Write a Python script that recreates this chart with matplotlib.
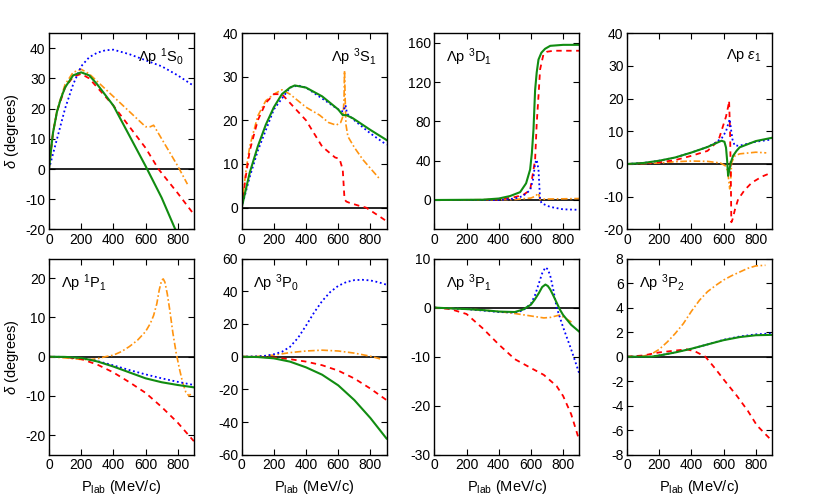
import numpy as np
import matplotlib
matplotlib.use('Agg')
import matplotlib.pyplot as plt

plt.rcParams['font.family'] = ['Liberation Sans', 'DejaVu Sans']
plt.rcParams['mathtext.fontset'] = 'custom'
plt.rcParams['mathtext.rm'] = 'Liberation Sans'
plt.rcParams['mathtext.it'] = 'Liberation Sans:italic'
plt.rcParams['font.size'] = 10
plt.rcParams['axes.unicode_minus'] = False

# ---- data (x = P_lab in MeV/c, y = phase shift in degrees) ----

# 1S0
s0_green_x = [0, 10, 25, 50, 75, 100, 150, 200, 250, 300, 400, 500, 600, 700, 785]
s0_green_y = [0, 5, 12, 19, 23.5, 27, 31, 32, 31, 28, 21, 11, 1, -9.5, -20]
s0_blue_x = [0, 25, 50, 100, 150, 200, 250, 300, 350, 400, 500, 600, 700, 800, 900]
s0_blue_y = [0, 5, 10, 20, 28, 34, 37, 38.5, 39.3, 39.5, 38, 36, 34, 31, 27.5]
s0_red_x = [0, 10, 25, 50, 100, 150, 200, 250, 300, 400, 500, 600, 680, 800, 900]
s0_red_y = [0, 5, 12, 19, 27, 30.5, 31.5, 30, 27, 21, 14, 7, 0, -8, -15]
s0_orng_x = [0, 10, 25, 50, 100, 150, 200, 250, 300, 400, 500, 600, 630, 650, 700, 800, 860]
s0_orng_y = [0, 5, 12, 19.5, 28, 32, 33, 31.5, 29, 24, 19, 14, 14, 14.5, 10, 1, -5]

# 3S1
s1_green_x = [0, 50, 100, 150, 200, 250, 300, 330, 400, 500, 600, 628, 650, 690, 800, 900]
s1_green_y = [0, 8, 14, 19, 23, 26, 27.5, 28, 27.5, 25.5, 22.5, 21.2, 21.2, 20.5, 17.8, 15.5]
s1_blue_x = [0, 50, 100, 200, 300, 350, 400, 500, 600, 630, 645, 655, 700, 800, 900]
s1_blue_y = [0, 7, 13, 22.5, 27.5, 28, 27.5, 25, 22.5, 22, 23.5, 21.5, 20, 17, 14.4]
s1_red_x = [0, 25, 50, 100, 150, 200, 250, 275, 300, 400, 500, 580, 608, 628, 639, 650, 670, 732, 773, 852, 900]
s1_red_y = [0, 7, 13, 20, 24, 26, 26, 25, 24, 20, 14, 11.5, 11.2, 8.7, 1.9, 1.4, 1.1, 0.4, 0, -1.9, -3.1]
s1_orng_x = [0, 25, 50, 100, 150, 200, 250, 300, 400, 484, 540, 587, 615, 630, 636, 639, 643, 648, 660, 700, 753, 800, 852]
s1_orng_y = [0, 8, 14, 21, 24.5, 26, 27, 26, 23, 21.2, 19.5, 18.9, 19.5, 21, 25, 31.4, 25, 19, 16.3, 13.8, 11, 9, 6.8]

# 3D1
d1_green_x = [0, 300, 400, 470, 533, 570, 595, 606, 616, 626, 636, 647, 665, 688, 720, 800, 900]
d1_green_y = [0, 0.3, 1.5, 4, 8, 17, 31, 48, 72, 112, 130, 143, 150, 154, 157, 158, 158]
d1_red_x = [0, 300, 400, 500, 550, 595, 616, 626, 636, 647, 657, 678, 700, 740, 800, 900]
d1_red_y = [0, 0.1, 0.5, 3, 5, 10, 30.7, 41, 78, 106, 133, 148.5, 151, 152, 152, 152]
d1_blue_x = [0, 400, 500, 550, 595, 615, 626, 636, 647, 657, 667, 719, 800, 900]
d1_blue_y = [0, 0, 1.5, 4, 10, 22, 37.5, 41, 31, 0, -3.4, -7, -9.5, -10]
d1_orng_x = [0, 500, 600, 630, 645, 650, 656, 700, 800, 900]
d1_orng_y = [0, 0.5, 2, 4, 7, 5, 0.5, 1, 1.2, 1.5]

# epsilon1
e1_green_x = [0, 100, 200, 300, 400, 500, 550, 587, 605, 615, 622, 628, 635, 645, 659, 680, 700, 800, 900]
e1_green_y = [0, 0.3, 1, 2, 3.5, 5.2, 6.3, 7.1, 6.8, 5, 1, -3.6, -2, 0.5, 2.5, 4, 5.1, 7, 8]
e1_blue_x = [0, 100, 200, 300, 400, 500, 550, 590, 615, 630, 638, 645, 655, 669, 700, 800, 900]
e1_blue_y = [0, 0.3, 1, 2, 3.5, 5.2, 6.5, 8, 10, 12.5, 13.7, 11, 7.5, 5.6, 5.6, 6.8, 7.5]
e1_red_x = [0, 200, 300, 400, 500, 535, 570, 597, 615, 628, 634, 640, 645, 648, 655, 670, 690, 730, 775, 840, 900]
e1_red_y = [0, 0.5, 1.2, 2.5, 4, 5.6, 7.5, 11.7, 14.5, 17.5, 19.3, 10, -5, -17.8, -17, -14, -10.8, -8, -5.7, -3.8, -2.6]
e1_orng_x = [0, 200, 300, 400, 500, 580, 610, 625, 638, 645, 650, 670, 700, 800, 865]
e1_orng_y = [0, 0.3, 0.7, 0.9, 0.8, 0.3, -0.5, -2, -7.6, -4, 0.5, 2.5, 3.1, 3.6, 3.4]

# 1P1
p1_green_x = [0, 100, 200, 300, 400, 500, 600, 700, 800, 900]
p1_green_y = [0, -0.05, -0.3, -1.2, -2.5, -4, -5.5, -6.5, -7.2, -7.8]
p1_blue_x = [0, 100, 200, 300, 400, 500, 600, 700, 800, 900]
p1_blue_y = [0, -0.05, -0.3, -1.1, -2.2, -3.4, -4.5, -5.5, -6.4, -7.2]
p1_red_x = [0, 100, 200, 300, 400, 500, 600, 700, 800, 900]
p1_red_y = [0, -0.1, -0.6, -2, -4, -6.5, -9.2, -12.8, -16.8, -21.5]
p1_orng_x = [0, 100, 200, 250, 300, 350, 400, 450, 500, 550, 600, 630, 650, 670, 685, 700, 710, 720,
             735, 750, 770, 790, 810, 830, 850, 870, 880]
p1_orng_y = [0, -0.3, -0.7, -0.75, -0.5, 0, 0.4, 1.3, 2.6, 4.2, 6.4, 8.5, 10.5, 13.5, 17, 19.5, 19.8, 19,
             16, 12, 6, 1, -3, -6.5, -9, -10, -9.5]

# 3P0
p0_green_x = [0, 100, 200, 300, 400, 500, 600, 700, 800, 900]
p0_green_y = [0, -0.2, -1, -3, -6.5, -11, -17.5, -26.5, -37.5, -50]
p0_blue_x = [0, 100, 150, 200, 250, 300, 350, 400, 450, 500, 550, 600, 650, 700, 750, 800, 850, 900]
p0_blue_y = [0, 0.2, 0.6, 1.5, 3, 6, 11.5, 19, 27, 34, 39.5, 43.3, 45.6, 46.8, 47, 46.6, 45.5, 44]
p0_red_x = [0, 100, 200, 300, 400, 500, 600, 700, 800, 900]
p0_red_y = [0, -0.1, -0.5, -1.5, -3, -5.2, -8.5, -13.3, -19.5, -26.5]
p0_orng_x = [0, 100, 200, 300, 400, 500, 600, 700, 800, 860]
p0_orng_y = [0, 0.2, 1, 2.5, 3.5, 4, 3.5, 2.2, 0.3, -1.3]

# 3P1
p31_green_x = [0, 200, 300, 400, 500, 550, 600, 625, 650, 670, 690, 705, 720, 740, 760, 780, 800, 850, 900]
p31_green_y = [0, -0.3, -0.5, -0.8, -0.9, -0.4, 0.6, 1.7, 3, 4.2, 4.7, 4.4, 3.7, 2.4, 1, -0.4, -1.5, -3.5, -4.9]
p31_blue_x = [0, 200, 300, 400, 500, 550, 600, 625, 650, 670, 690, 705, 720, 740, 760, 780, 800, 850, 900]
p31_blue_y = [0, -0.3, -0.6, -0.9, -1, -0.6, 0.8, 2.5, 5, 7, 8.2, 7.8, 6.5, 3.5, 0, -2, -4, -8.5, -13.4]
p31_red_x = [0, 100, 200, 300, 400, 500, 600, 680, 760, 800, 850, 900]
p31_red_y = [0, -0.3, -1.3, -4.2, -7.5, -10.5, -12.3, -13.7, -16, -18, -21.7, -27]
p31_orng_x = [0, 200, 300, 400, 500, 600, 680, 720, 780, 830, 860]
p31_orng_y = [0, -0.3, -0.5, -0.8, -1.2, -1.7, -2.1, -2, -1.5, -2.5, -3.1]

# 3P2
p2_green_x = [0, 150, 200, 300, 400, 500, 600, 700, 800, 900]
p2_green_y = [0, 0, 0.1, 0.35, 0.65, 1, 1.35, 1.6, 1.75, 1.78]
p2_blue_x = [0, 150, 200, 300, 400, 500, 600, 700, 800, 900]
p2_blue_y = [0, 0, 0.1, 0.35, 0.65, 1, 1.38, 1.65, 1.82, 1.9]
p2_red_x = [0, 100, 200, 300, 370, 420, 487, 550, 600, 683, 750, 807, 900]
p2_red_y = [0, 0.1, 0.35, 0.5, 0.6, 0.45, 0, -1, -1.85, -3.2, -4.4, -5.6, -6.85]
p2_orng_x = [0, 100, 150, 200, 250, 300, 350, 400, 450, 500, 550, 600, 650, 700, 750, 800, 860]
p2_orng_y = [0, 0.05, 0.2, 0.6, 1.2, 1.9, 2.7, 3.7, 4.6, 5.3, 5.8, 6.25, 6.6, 6.9, 7.2, 7.4, 7.45]

titles = [r'$\Lambda$p $^{1}$S$_{0}$', r'$\Lambda$p $^{3}$S$_{1}$', r'$\Lambda$p $^{3}$D$_{1}$',
          r'$\Lambda$p $\varepsilon_{1}$', r'$\Lambda$p $^{1}$P$_{1}$', r'$\Lambda$p $^{3}$P$_{0}$',
          r'$\Lambda$p $^{3}$P$_{1}$', r'$\Lambda$p $^{3}$P$_{2}$']
ylims = [(-20, 45), (-5, 40), (-30, 170), (-20, 40), (-25, 25), (-60, 60), (-30, 10), (-8, 8)]
yticks = [np.arange(-20, 41, 10), np.arange(0, 41, 10), np.arange(0, 161, 40), np.arange(-20, 41, 10),
          np.arange(-20, 21, 10), np.arange(-60, 61, 20), np.arange(-30, 11, 10), np.arange(-8, 9, 2)]
title_pos = ['right', 'right', 'left', 'right', 'left', 'left', 'left', 'left']

panels = [
    [(s0_green_x, s0_green_y), (s0_blue_x, s0_blue_y), (s0_red_x, s0_red_y), (s0_orng_x, s0_orng_y)],
    [(s1_green_x, s1_green_y), (s1_blue_x, s1_blue_y), (s1_red_x, s1_red_y), (s1_orng_x, s1_orng_y)],
    [(d1_green_x, d1_green_y), (d1_blue_x, d1_blue_y), (d1_red_x, d1_red_y), (d1_orng_x, d1_orng_y)],
    [(e1_green_x, e1_green_y), (e1_blue_x, e1_blue_y), (e1_red_x, e1_red_y), (e1_orng_x, e1_orng_y)],
    [(p1_green_x, p1_green_y), (p1_blue_x, p1_blue_y), (p1_red_x, p1_red_y), (p1_orng_x, p1_orng_y)],
    [(p0_green_x, p0_green_y), (p0_blue_x, p0_blue_y), (p0_red_x, p0_red_y), (p0_orng_x, p0_orng_y)],
    [(p31_green_x, p31_green_y), (p31_blue_x, p31_blue_y), (p31_red_x, p31_red_y), (p31_orng_x, p31_orng_y)],
    [(p2_green_x, p2_green_y), (p2_blue_x, p2_blue_y), (p2_red_x, p2_red_y), (p2_orng_x, p2_orng_y)],
]

styles = [
    dict(color='#118c11', lw=1.5, ls='-'),
    dict(color='#0000ff', lw=1.3, ls=(0, (1, 1.5))),
    dict(color='#ff0000', lw=1.3, ls=(0, (3, 2.5))),
    dict(color='#ff9410', lw=1.2, ls=(0, (4, 1.5, 1, 1.5))),
]

fig, axes = plt.subplots(2, 4, figsize=(8.3, 5.01), dpi=100)
fig.subplots_adjust(left=0.059, right=0.930, top=0.934, bottom=0.092, wspace=0.33, hspace=0.148)

for i, ax in enumerate(axes.flat):
    ax.axhline(0, color='black', lw=1.2, zorder=1)
    # orange, red, blue first, green on top
    for (x, y), st in reversed(list(zip(panels[i], styles))):
        ax.plot(x, y, **st, zorder=2)
    ax.set_xlim(0, 900)
    ax.set_ylim(*ylims[i])
    ax.set_xticks([0, 200, 400, 600, 800])
    ax.set_yticks(yticks[i])
    ax.tick_params(direction='in', top=True, right=True, length=4, labelsize=10, pad=2.5)
    for sp in ax.spines.values():
        sp.set_linewidth(1.0)
    if title_pos[i] == 'right':
        ax.text(0.93, 0.93, titles[i], transform=ax.transAxes, ha='right', va='top', fontsize=10.5)
    else:
        ax.text(0.08, 0.93, titles[i], transform=ax.transAxes, ha='left', va='top', fontsize=10.5)

for ax in axes[:, 0]:
    ax.set_ylabel(r'$\delta$ (degrees)', fontsize=10.5)
    ax.yaxis.set_label_coords(-0.195, 0.5)
for ax in axes[1, :]:
    ax.set_xlabel(r'P$_{\rm lab}$ (MeV/c)', fontsize=10.5)

fig.savefig('out.png', dpi=100)
